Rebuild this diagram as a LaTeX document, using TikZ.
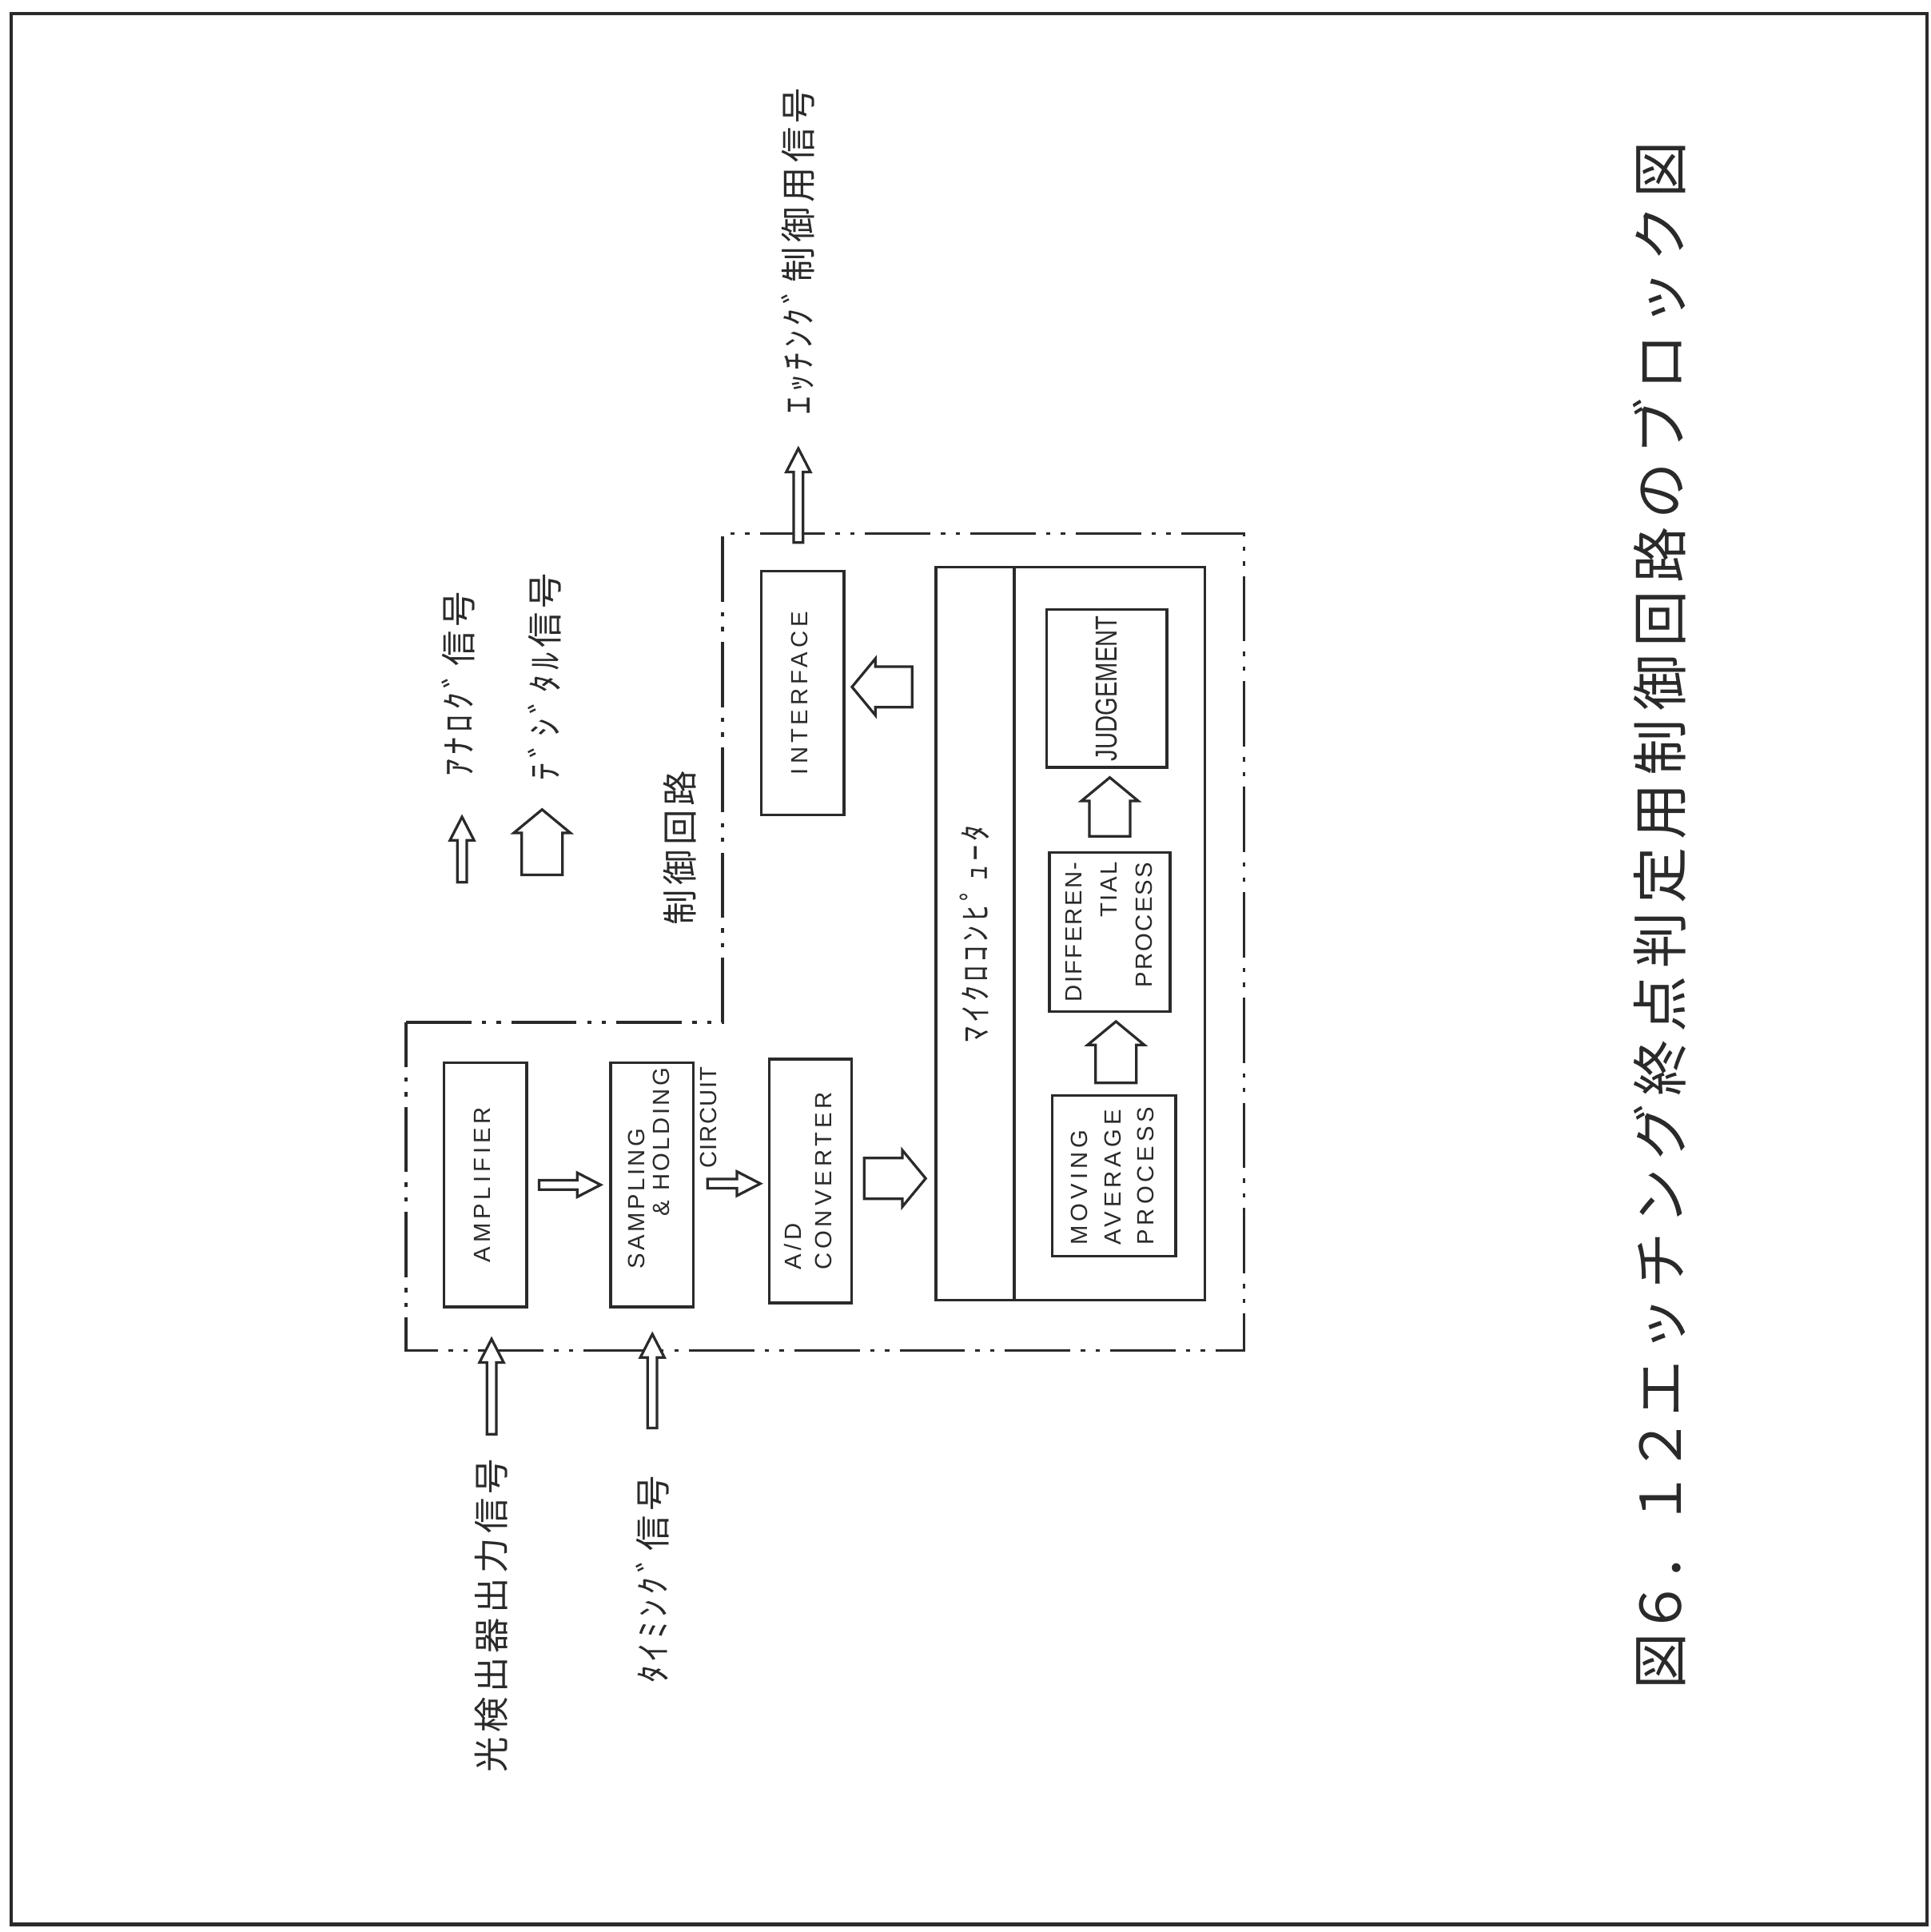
\documentclass[tikz,border=0pt]{standalone}
\usepackage{fontspec}
\usepackage{graphicx}
\usepackage{xcolor}
\definecolor{cInk}{HTML}{2A2A2A}
\newfontfamily\blockfam[LetterSpace=17]{Liberation Sans}
\newfontfamily\jpfam[LetterSpace=12]{Noto Sans CJK JP}
\newfontfamily\capfam{Noto Sans CJK JP}
\usetikzlibrary{positioning,calc}
\newcommand{\blockfont}[1]{\blockfam\fontsize{5.4}{#1}\selectfont}
\newcommand{\jpfont}[1]{\jpfam\fontsize{#1}{#1}\selectfont}
\newcommand{\vlbl}[2][l]{\rotatebox{90}{\begin{tabular}{@{}#1@{}}#2\end{tabular}}}
\tikzset{
  block-box/.style={draw=cInk,line width=0.65pt,minimum width=6.7mm,
    minimum height=19.8mm,inner sep=0pt},
  block-proc/.style={block-box,minimum width=9.8mm,minimum height=12.9mm},
  text-jp/.style={inner sep=0pt,rotate=90,font=\jpfont{8.2}},
  line-ctrl/.style={draw=cInk,line width=0.65pt,
    dash pattern=on 5.3mm off 0.85mm on 0.35mm off 0.85mm on 0.35mm off 0.85mm},
  % 中抜き矢印: 軸の半幅 / 頭の半幅 / 頭の長さ
  hollow/.style n args={3}{to path={
    (\tikztostart) coordinate (hsrc)
    (\tikztotarget) coordinate (htgt)
    ($(htgt)!#3!(hsrc)$) coordinate (hbase)
    ($(hsrc)!#1!90:(htgt)$) -- ($(hbase)!#1!90:(htgt)$)
    -- ($(hbase)!#2!90:(htgt)$) -- (htgt)
    -- ($(hbase)!#2!-90:(htgt)$) -- ($(hbase)!#1!-90:(htgt)$)
    -- ($(hsrc)!#1!-90:(htgt)$) -- cycle}},
  arrow-analog/.style={hollow={0.38mm}{0.98mm}{1.9mm},draw=cInk,fill=white,
    line width=0.6pt},
  arrow-digital/.style={hollow={1.65mm}{2.3mm}{1.9mm},draw=cInk,fill=white,
    line width=0.6pt},
}

\begin{document}
\begin{tikzpicture}[x=0.1mm,y=-0.1mm,every node/.style={text=cInk}]
  \useasboundingbox (0,0) rectangle (1567,1568);
  \draw[cInk,line width=0.85pt] (9,11) rectangle (1564,1562);

  % 凡例
  \coordinate (anaTail) at (375,716);
  \coordinate (anaTip) at (375,663);
  \coordinate (digTail) at (440,710);
  \coordinate (digTip) at (440,657);
  \node[text-jp,anchor=west] (anaLbl) at (372,631) {ｱﾅﾛｸﾞ信号};
  \node[text-jp,anchor=west] (digLbl) at (442,634) {ﾃﾞｼﾞﾀﾙ信号};

  % 制御回路
  \draw[line-ctrl] (329.5,829.8) -- (586.6,829.8) -- (586.6,433) -- (1009.7,433)
    -- (1009.7,1096) -- (329.5,1096) -- cycle;
  \node[text-jp] (ctrlLbl) at (552,688) {制御回路};

  \node[block-box,font={\blockfont{5.7}}] (amp) at (393.9,961.6) {\vlbl{AMPLIFIER}};
  \node[block-box,font={\blockfont{5.7}\addfontfeature{LetterSpace=12}},right=6.6mm of amp] (samp)
    {\rotatebox{90}{\begin{tabular}{@{}l@{\hspace{-2.7mm}}}SAMPLING\\\hspace*{4.3mm}\& HOLDING\end{tabular}}};
  \node[inner sep=0pt,rotate=90,anchor=north east,
    font={\blockfont{5.7}\addfontfeature{LetterSpace=5}}] (circ)
    at ($(samp.north east)+(3.6,3.4)$) {CIRCUIT};
  \node[block-box,font={\blockfont{7.1}}] (adc) at (657.8,958.4) {\vlbl{A/D\\CONVERTER}};
  \node[block-box,font={\blockfont{5.7}}] (iface) at (651.4,562.5) {\vlbl{INTERFACE}};

  \node[draw=cInk,line width=0.65pt,minimum width=21.84mm,minimum height=59.47mm,
    inner sep=0pt] (micro) at (868.7,757.7) {};
  \draw[cInk,line width=0.65pt] ($(micro.north west)+(65,0)$) -- ($(micro.south west)+(65,0)$);
  \node[text-jp,font={\jpfont{7.5}}] (microLbl) at ($(micro.west)+(32.5,0)$) {ﾏｲｸﾛｺﾝﾋﾟｭｰﾀ};
  \node[block-proc,minimum width=10mm,minimum height=13.05mm,font={\blockfont{7.7}}] (mavg)
    at (904.2,954.3) {\vlbl{MOVING\\AVERAGE\\PROCESS}};
  \node[block-proc,font={\blockfont{8.2}\addfontfeature{LetterSpace=8}}] (diff)
    at (900.8,756.4) {\vlbl[r]{DIFFEREN-\\TIAL\\PROCESS}};
  \node[block-proc,minimum width=9.74mm,minimum height=12.83mm,
    font={\blockfont{5.7}\addfontfeature{LetterSpace=0}}] (judge)
    at (898.3,558.7) {\rotatebox{90}{\scalebox{1}[1.3]{JUDGEMENT}}};

  \node[text-jp,anchor=east] (inSig) at (399,1183) {光検出器出力信号};
  \node[text-jp,anchor=east] (timSig) at (529.5,1197) {ﾀｲﾐﾝｸﾞ信号};
  \node[text-jp,anchor=west] (outSig) at (648,337) {ｴｯﾁﾝｸﾞ制御用信号};

  \draw[arrow-analog] (anaTail) to (anaTip);
  \draw[arrow-digital] (digTail) to (digTip);
  \draw[arrow-analog] ($(inSig.east)+(0,-19)$) to ($(inSig.east |- amp.south)+(0,25)$);
  \draw[arrow-analog] ($(timSig.east)+(0,-38)$) to ($(timSig.east |- samp.south)+(0,21)$);
  \draw[arrow-analog] ($(amp.east)+(9,0)$) to ($(samp.west)+(-7,0)$);
  \draw[arrow-analog] ($(samp.east)+(10.5,-1)$) to ($(adc.west |- samp.east)+(-6,-1)$);
  \draw[arrow-digital] ($(adc.east)+(9,-2)$) to ($(micro.west |- adc.east)+(-7,-2)$);
  \draw[arrow-digital] ($(mavg.north)+(1.6,-9)$) to ($(diff.south -| mavg.north)+(1.6,7)$);
  \draw[arrow-digital] ($(diff.north)+(0,-12)$) to ($(judge.south -| diff.north)+(0,7)$);
  \draw[arrow-digital] ($(micro.west |- iface.east)+(-18,-5)$) to ($(iface.east)+(5.5,-5)$);
  \draw[arrow-analog] ($(outSig.west |- iface.north)+(0,-22)$) to ($(outSig.west)+(0,27)$);

  \node[rotate=90,anchor=west,inner sep=0pt,font={\capfam\fontsize{13}{15}\selectfont}] (caption)
    at (1347,1372) {{\addfontfeature{LetterSpace=-4}図６．１２}{\addfontfeature{LetterSpace=14}エッチング終点判定用制御回路のブロック図}};
\end{tikzpicture}
\end{document}
